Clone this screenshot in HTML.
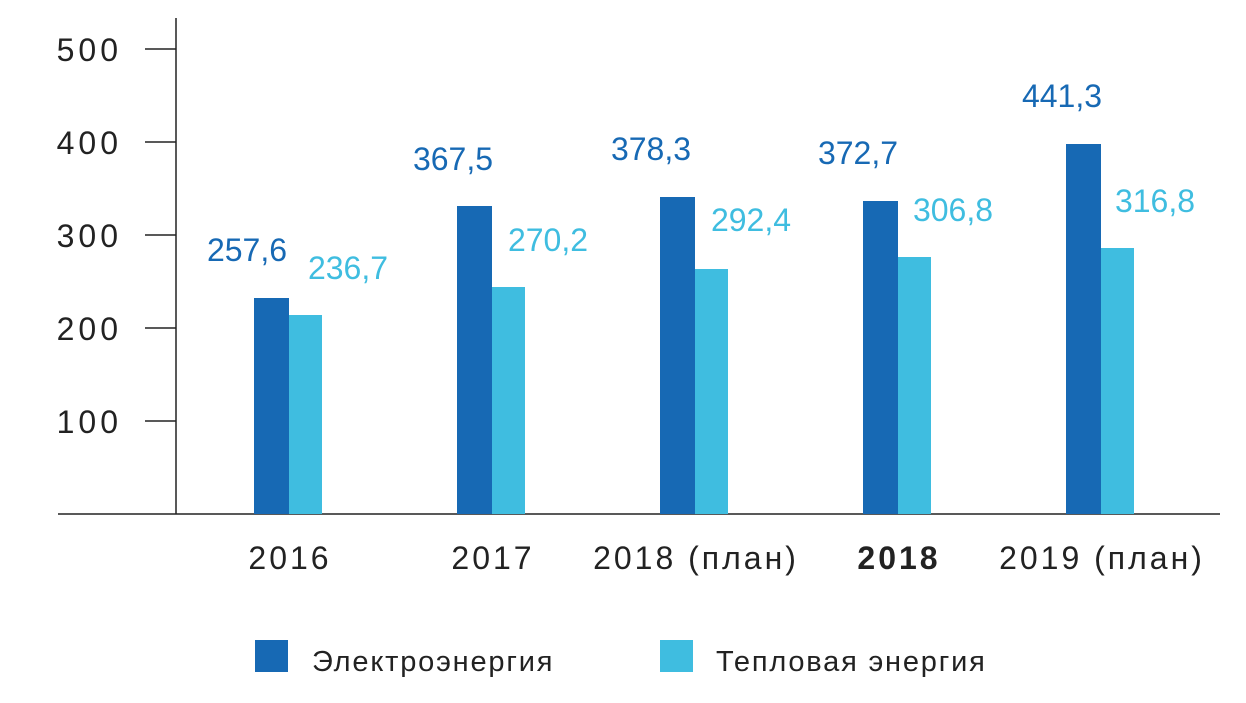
<!DOCTYPE html>
<html><head><meta charset="utf-8"><style>
body{margin:0;background:#fff}
svg text{font-family:"Liberation Sans","DejaVu Sans",sans-serif}
</style></head><body>
<svg width="1246" height="698" viewBox="0 0 1246 698" xmlns="http://www.w3.org/2000/svg">
<g stroke="#222" stroke-width="1.5">
<line x1="176" y1="18" x2="176" y2="514"/>
<line x1="58" y1="514" x2="1220" y2="514"/>
<line x1="145" y1="49" x2="176" y2="49"/>
<line x1="145" y1="142" x2="176" y2="142"/>
<line x1="145" y1="235" x2="176" y2="235"/>
<line x1="145" y1="328" x2="176" y2="328"/>
<line x1="145" y1="421" x2="176" y2="421"/>
</g>
<g font-size="32" fill="#222" text-anchor="end" letter-spacing="4">
<text x="122" y="61">500</text>
<text x="122" y="154">400</text>
<text x="122" y="247">300</text>
<text x="122" y="340">200</text>
<text x="122" y="433">100</text>
</g>
<g fill="#1769b4">
<rect x="254" y="298" width="35" height="216"/>
<rect x="457" y="206" width="35" height="308"/>
<rect x="660" y="197" width="35" height="317"/>
<rect x="863" y="201" width="35" height="313"/>
<rect x="1066" y="144" width="35" height="370"/>
</g>
<g fill="#3fbde0">
<rect x="289" y="315" width="33" height="199"/>
<rect x="492" y="287" width="33" height="227"/>
<rect x="695" y="269" width="33" height="245"/>
<rect x="898" y="257" width="33" height="257"/>
<rect x="1101" y="248" width="33" height="266"/>
</g>
<g font-size="32" fill="#1769b4" text-anchor="middle">
<text x="247" y="261">257,6</text>
<text x="453" y="170">367,5</text>
<text x="651" y="160">378,3</text>
<text x="858" y="164">372,7</text>
<text x="1062" y="107">441,3</text>
</g>
<g font-size="32" fill="#3fbde0" text-anchor="middle">
<text x="348" y="279">236,7</text>
<text x="548" y="251">270,2</text>
<text x="751" y="231">292,4</text>
<text x="953" y="221">306,8</text>
<text x="1155" y="212">316,8</text>
</g>
<g font-size="32" fill="#222" text-anchor="middle" letter-spacing="3">
<text x="290" y="569">2016</text>
<text x="493" y="569">2017</text>
<text x="696" y="569">2018 (план)</text>
<text x="899" y="569" font-weight="bold">2018</text>
<text x="1102" y="569">2019 (план)</text>
</g>
<rect x="255" y="640" width="33" height="32" fill="#1769b4"/>
<rect x="660" y="640" width="33" height="32" fill="#3fbde0"/>
<g font-size="29" fill="#222" letter-spacing="1.8">
<text x="312" y="671">Электроэнергия</text>
<text x="716" y="671">Тепловая энергия</text>
</g>
</svg>
</body></html>
